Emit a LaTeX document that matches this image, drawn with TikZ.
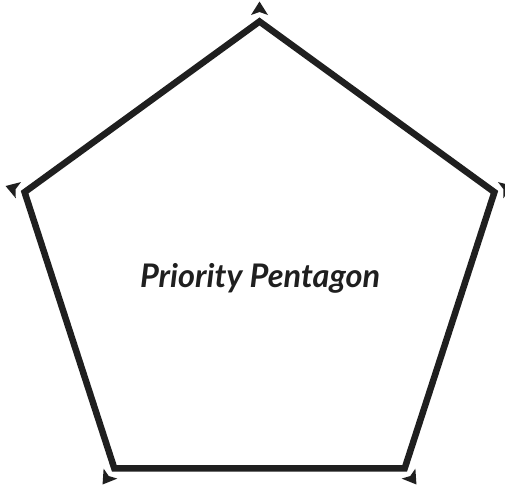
\documentclass[tikz,border=0pt]{standalone}
\usepackage{fontspec}
\setmainfont{Lato}
\usetikzlibrary{calc}
\begin{document}
\begin{tikzpicture}[x=1pt,y=-1pt,
  edge/.style={line width=6.5pt,line join=miter,draw=black!88},
  tipmark/.style={fill=black!88,draw=none},
  label/.style={font=\fontsize{32.5}{38}\selectfont\bfseries\itshape,text=black!88}]
\useasboundingbox (0,0) rectangle (505,485);
\def\R{247}
\coordinate (c) at (259.5,268.5);
\foreach \i/\a in {1/90,2/162,3/234,4/306,5/18}{
  \coordinate (v\i) at ($(c)+({\R*cos(\a)},{-\R*sin(\a)})$);
  \coordinate (apex\i) at ($(c)+({(\R+20)*cos(\a)},{-(\R+20)*sin(\a)})$);
  \coordinate (notch\i) at ($(c)+({(\R+9.5)*cos(\a)},{-(\R+9.5)*sin(\a)})$);
  \coordinate (ba\i) at ($(c)+({(\R+6.5)*cos(\a)+8.5*sin(\a)},{-(\R+6.5)*sin(\a)+8.5*cos(\a)})$);
  \coordinate (bb\i) at ($(c)+({(\R+6.5)*cos(\a)-8.5*sin(\a)},{-(\R+6.5)*sin(\a)-8.5*cos(\a)})$);
  \fill[tipmark] (apex\i) -- (ba\i) -- (notch\i) -- (bb\i) -- cycle;
}
\draw[edge] (v1) -- (v2) -- (v3) -- (v4) -- (v5) -- cycle;
\node[label] (title) at (260,278) {Priority Pentagon};
\end{tikzpicture}
\end{document}
